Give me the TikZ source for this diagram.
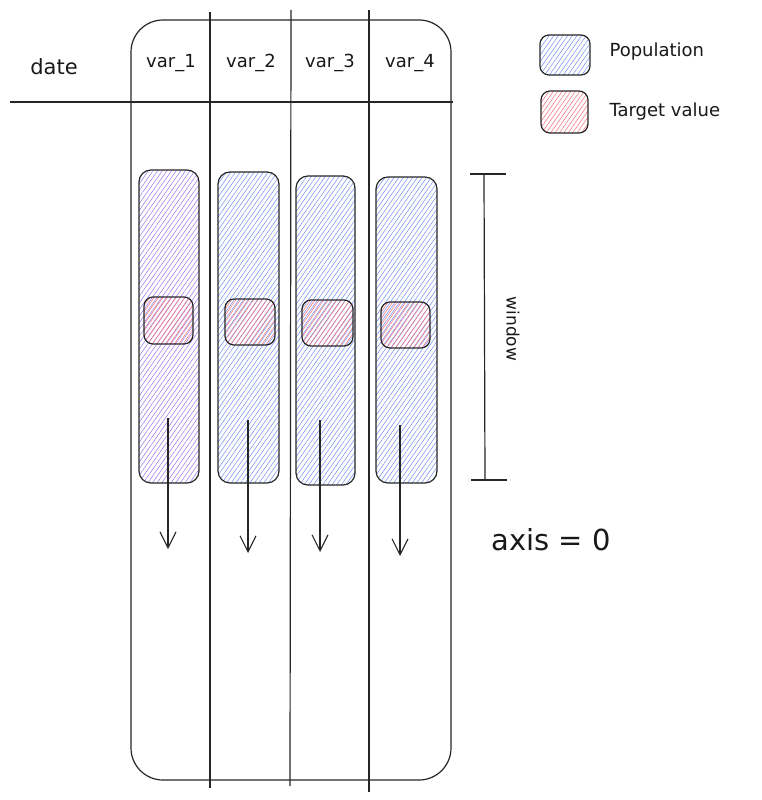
\documentclass[tikz,border=0pt]{standalone}
\usepackage{fontspec}
\setmainfont{DejaVu Sans}
\usetikzlibrary{patterns.meta,arrows.meta}
\definecolor{popblue}{RGB}{110,140,245}
\definecolor{poppurple}{RGB}{150,115,240}
\definecolor{tgtred}{RGB}{245,115,130}
\tikzset{
  ink/.style={draw=black!85, line width=1.2pt},
  popbar/.style={ink, rounded corners=12pt, pattern={Lines[angle=55,distance=3.8pt,line width=0.5pt]}, pattern color=popblue},
  tgtbox/.style={ink, rounded corners=9pt, pattern={Lines[angle=55,distance=3.6pt,line width=0.55pt]}, pattern color=tgtred},
  lbl/.style={font=\fontsize{18}{21}\selectfont, text=black!90},
  downarrow/.style={ink, -{Straight Barb[length=16pt,width=16pt,line width=1.1pt]}},
}
\begin{document}
\begin{tikzpicture}[x=1pt,y=-1pt]
\useasboundingbox (0,0) rectangle (762,800);
% outer frame
\draw[ink, rounded corners=32pt] (131,20) rectangle (451,780);
% header line
\coordinate (hl) at (10,102); \coordinate (hr) at (453,102);
\draw[ink] (hl) -- (hr);
% column separators
\coordinate (s1t) at (210,12); \coordinate (s1b) at (210,788);
\coordinate (s2t) at (291,10); \coordinate (s2b) at (290,786);
\coordinate (s3t) at (369,10); \coordinate (s3b) at (369,792);
\draw[ink] (s1t) -- (s1b);
\draw[ink] (s2t) -- (s2b);
\draw[ink] (s3t) -- (s3b);
% header labels
\node[lbl, font=\fontsize{21}{24}\selectfont] (date) at (54,67) {date};
\node[lbl] (v1) at (171,63) {var\_1};
\node[lbl] (v2) at (251,63) {var\_2};
\node[lbl] (v3) at (330,63) {var\_3};
\node[lbl] (v4) at (410,63) {var\_4};
% population bars
\draw[popbar, pattern color=poppurple] (139,170) rectangle (199,483);
\draw[popbar] (218,172) rectangle (279,483);
\draw[popbar] (296,176) rectangle (355,485);
\draw[popbar] (376,177) rectangle (437,483);
% target boxes
\draw[tgtbox] (144,297) rectangle (193,344);
\draw[tgtbox] (225,299) rectangle (275,345);
\draw[tgtbox] (302,300) rectangle (353,346);
\draw[tgtbox] (381,302) rectangle (430,348);
% arrows
\coordinate (a1s) at (168,418); \coordinate (a1e) at (168,549);
\coordinate (a2s) at (248,420); \coordinate (a2e) at (248,553);
\coordinate (a3s) at (320,420); \coordinate (a3e) at (320,552);
\coordinate (a4s) at (400,425); \coordinate (a4e) at (400,556);
\draw[downarrow] (a1s) -- (a1e);
\draw[downarrow] (a2s) -- (a2e);
\draw[downarrow] (a3s) -- (a3e);
\draw[downarrow] (a4s) -- (a4e);
% window bracket
\coordinate (wt) at (484,174); \coordinate (wb) at (485,480);
\draw[ink] (wt) -- (wb);
\draw[ink] (470,174) -- (506,174);
\draw[ink] (471,480) -- (507,480);
\node[lbl, font=\fontsize{17}{19}\selectfont, rotate=-90] (win) at (513,329) {window};
% axis label
\node[lbl, font=\fontsize{29}{33}\selectfont] (axis) at (551,540) {axis = 0};
% legend
\draw[popbar, rounded corners=9pt] (540,35) rectangle (590,75);
\node[lbl, anchor=west] (lpop) at (606,52) {Population};
\draw[tgtbox] (541,91) rectangle (588,133);
\node[lbl, anchor=west] (ltgt) at (606,112) {Target value};
\end{tikzpicture}
\end{document}
